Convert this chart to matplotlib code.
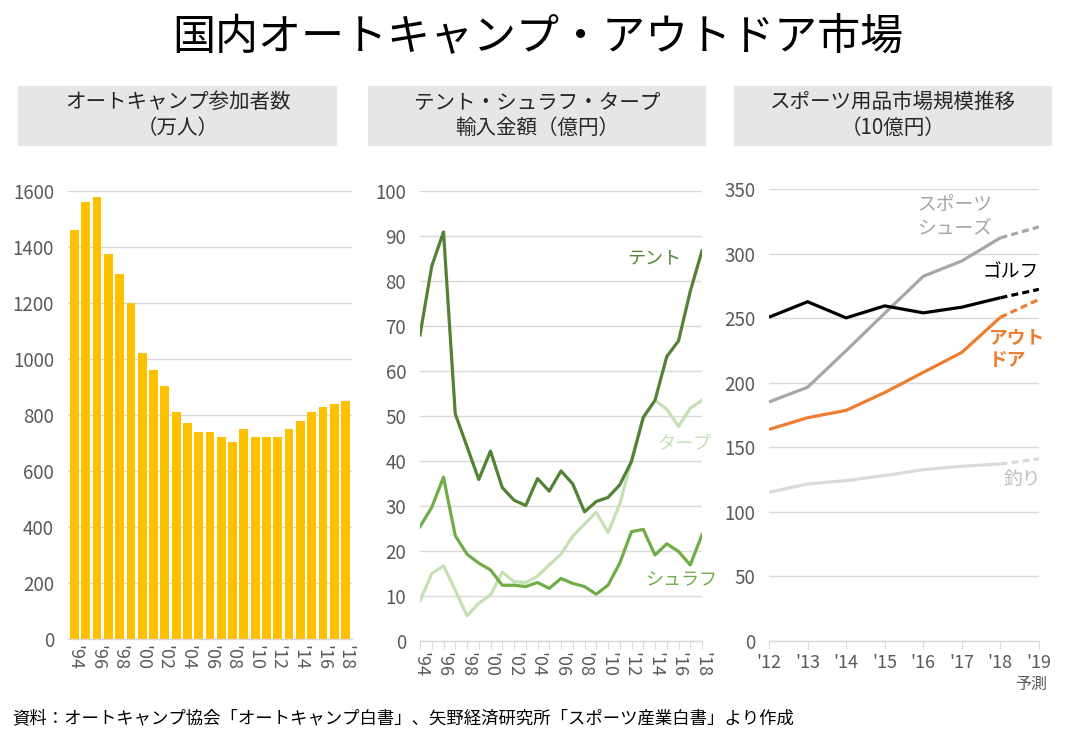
import matplotlib
matplotlib.use("Agg")
import matplotlib.pyplot as plt
from matplotlib.patches import Rectangle

plt.rcParams['font.family'] = ['Noto Sans CJK JP', 'DejaVu Sans']

# ---- data ----
camp_years = ["'94", "'95", "'96", "'97", "'98", "'99", "'00", "'01", "'02", "'03", "'04", "'05", "'06",
              "'07", "'08", "'09", "'10", "'11", "'12", "'13", "'14", "'15", "'16", "'17", "'18"]
camp_people = [1460, 1560, 1580, 1375, 1305, 1200, 1020, 960, 905, 810, 770, 740, 740,
               720, 705, 750, 720, 720, 720, 750, 780, 810, 830, 840, 850]

import_years = list(range(1994, 2019))
tent = [68, 83.3, 90.9, 50.5, 43.2, 35.9, 42.2, 34.1, 31.3, 30.1, 36.1, 33.3, 37.8,
        34.9, 28.7, 31.0, 31.9, 34.7, 39.9, 49.7, 53.5, 63.2, 66.7, 77.7, 86.7]
shurafu = [25.4, 29.7, 36.4, 23.4, 19.3, 17.3, 15.8, 12.4, 12.4, 12.1, 13.0, 11.7, 13.9,
           12.8, 12.1, 10.4, 12.4, 17.3, 24.3, 24.8, 19.1, 21.6, 19.9, 16.9, 23.6]
tarp = [8.9, 15.0, 16.7, 11.3, 5.6, 8.4, 10.2, 15.3, 13.2, 13.0, 14.4, 16.9, 19.3,
        23.3, 26.0, 28.6, 24.1, 30.4, 40.2, 49.5, 53.5, 51.5, 47.7, 51.7, 53.5]

sport_years = [2012, 2013, 2014, 2015, 2016, 2017, 2018, 2019]
sport_tick_labels = ["'12", "'13", "'14", "'15", "'16", "'17", "'18", "'19"]
golf = [250.7, 262.7, 250.2, 259.5, 254.1, 258.5, 265.8, 272.3]
shoes = [185.1, 196.5, 224.8, 253.8, 282.4, 294.3, 312.2, 320.7]
outdoor = [163.8, 172.9, 178.6, 192.4, 208.0, 223.5, 250.7, 264.5]
fishing = [115.2, 121.6, 124.2, 128.1, 132.7, 135.3, 137.1, 141.0]

W, H = 1076, 744
fig = plt.figure(figsize=(W / 100, H / 100), dpi=100)
fig.patch.set_facecolor('white')

def fx(px):
    return px / W

def fy(py):
    return 1 - py / H

def make_ax(x0, x1, y0, y1):
    return fig.add_axes([fx(x0), fy(y1), fx(x1) - fx(x0), (y1 - y0) / H])

TICK = '#595959'
GRID = '#D9D9D9'

def style(ax):
    for s in ['top', 'right', 'left']:
        ax.spines[s].set_visible(False)
    ax.spines['bottom'].set_color(GRID)
    ax.spines['bottom'].set_linewidth(1.0)
    ax.yaxis.grid(True, color=GRID, lw=1.0)
    ax.set_axisbelow(True)
    ax.tick_params(axis='y', length=0, colors=TICK, labelsize=13.5, pad=10)
    ax.tick_params(axis='x', colors=TICK, labelsize=13)

# title
fig.text(0.5, fy(38), "国内オートキャンプ・アウトドア市場", ha='center', va='center',
         fontsize=31, color='black')

# header boxes
headers = [(18, 337, "オートキャンプ参加者数", "（万人）"),
           (368, 706, "テント・シュラフ・タープ", "輸入金額（億円）"),
           (734, 1052, "スポーツ用品市場規模推移", "（10億円）")]
for x0, x1, l1, l2 in headers:
    fig.patches.append(Rectangle((fx(x0), fy(146)), fx(x1) - fx(x0), 60 / H,
                                 transform=fig.transFigure, facecolor='#E7E6E6',
                                 edgecolor='none', zorder=0))
    cx = fx((x0 + x1) / 2)
    fig.text(cx, fy(102), l1, ha='center', va='center', fontsize=14.8, color='#262626')
    fig.text(cx, fy(128), l2, ha='center', va='center', fontsize=14.8, color='#262626')

# ---- panel 1: bars ----
ax1 = make_ax(68, 352, 191, 639)
style(ax1)
xs = list(range(len(camp_people)))
ax1.bar(xs, camp_people, width=0.78, color='#FFC000', zorder=2)
ax1.set_xlim(-0.57, len(camp_people) - 0.43)
ax1.set_ylim(0, 1600)
ax1.set_yticks(range(0, 1601, 200))
ax1.set_xticks(xs[::2])
ax1.set_xticklabels(camp_years[::2], rotation=-90)
ax1.tick_params(axis='x', length=0, pad=4)

# ---- panel 2: import lines ----
ax2 = make_ax(420, 702, 191, 641)
style(ax2)
lw = 2.3
ax2.plot(import_years, tarp, color='#C5E0B4', lw=lw, zorder=3)
ax2.plot(import_years, shurafu, color='#70AD47', lw=lw, zorder=4)
ax2.plot(import_years, tent, color='#548235', lw=lw, zorder=5)
ax2.set_xlim(1994, 2018)
ax2.set_ylim(0, 100)
ax2.set_yticks(range(0, 101, 10))
ax2.set_xticks(import_years)
ax2.set_xticklabels([camp_years[i] if i % 2 == 0 else '' for i in range(len(import_years))],
                    rotation=-90)
ax2.tick_params(axis='x', length=6, color=GRID, pad=2)
ax2.text(2016.2, 85, "テント", color='#548235', fontsize=13, ha='right', va='center')
ax2.text(2018.8, 44, "タープ", color='#C5E0B4', fontsize=13, ha='right', va='center', clip_on=False)
ax2.text(2019.3, 13.5, "シュラフ", color='#70AD47', fontsize=13, ha='right', va='center', clip_on=False)

# ---- panel 3: sports market ----
ax3 = make_ax(769, 1039, 189, 641)
style(ax3)
dash = (0, (2.2, 1.3))
series = [(fishing, '#D9D9D9'), (shoes, '#A6A6A6'), (outdoor, '#ED7D31'), (golf, '#000000')]
for vals, col in series:
    ax3.plot(sport_years[:7], vals[:7], color=col, lw=lw, solid_capstyle='butt')
    ax3.plot(sport_years[6:], vals[6:], color=col, lw=lw, ls=dash)
ax3.set_xlim(2012, 2019)
ax3.set_ylim(0, 350)
ax3.set_yticks(range(0, 351, 50))
ax3.set_xticks(sport_years)
ax3.set_xticklabels(sport_tick_labels)
ax3.tick_params(axis='x', length=6, color=GRID, pad=3)
ax3.text(2019.2, -34, "予測", color=TICK, fontsize=11.5, ha='right', va='center', clip_on=False)
ax3.text(2016.8, 338, "スポーツ", color='#A6A6A6', fontsize=13.5, ha='center', va='center')
ax3.text(2016.8, 320, "シューズ", color='#A6A6A6', fontsize=13.5, ha='center', va='center')
ax3.text(2018.25, 286, "ゴルフ", color='#000000', fontsize=13.5, ha='center', va='center')
ax3.text(2017.7, 234.5, "アウト", color='#ED7D31', fontsize=13.5, ha='left', va='center', fontweight='bold')
ax3.text(2017.7, 217.5, "ドア", color='#ED7D31', fontsize=13.5, ha='left', va='center', fontweight='bold')
ax3.text(2019.05, 125, "釣り", color='#BFBFBF', fontsize=13.5, ha='right', va='center', clip_on=False)

# footer
fig.text(fx(12), fy(718), "資料：オートキャンプ協会「オートキャンプ白書」、矢野経済研究所「スポーツ産業白書」より作成",
         ha='left', va='center', fontsize=12.5, color='black')

fig.savefig('out.png', dpi=100)
